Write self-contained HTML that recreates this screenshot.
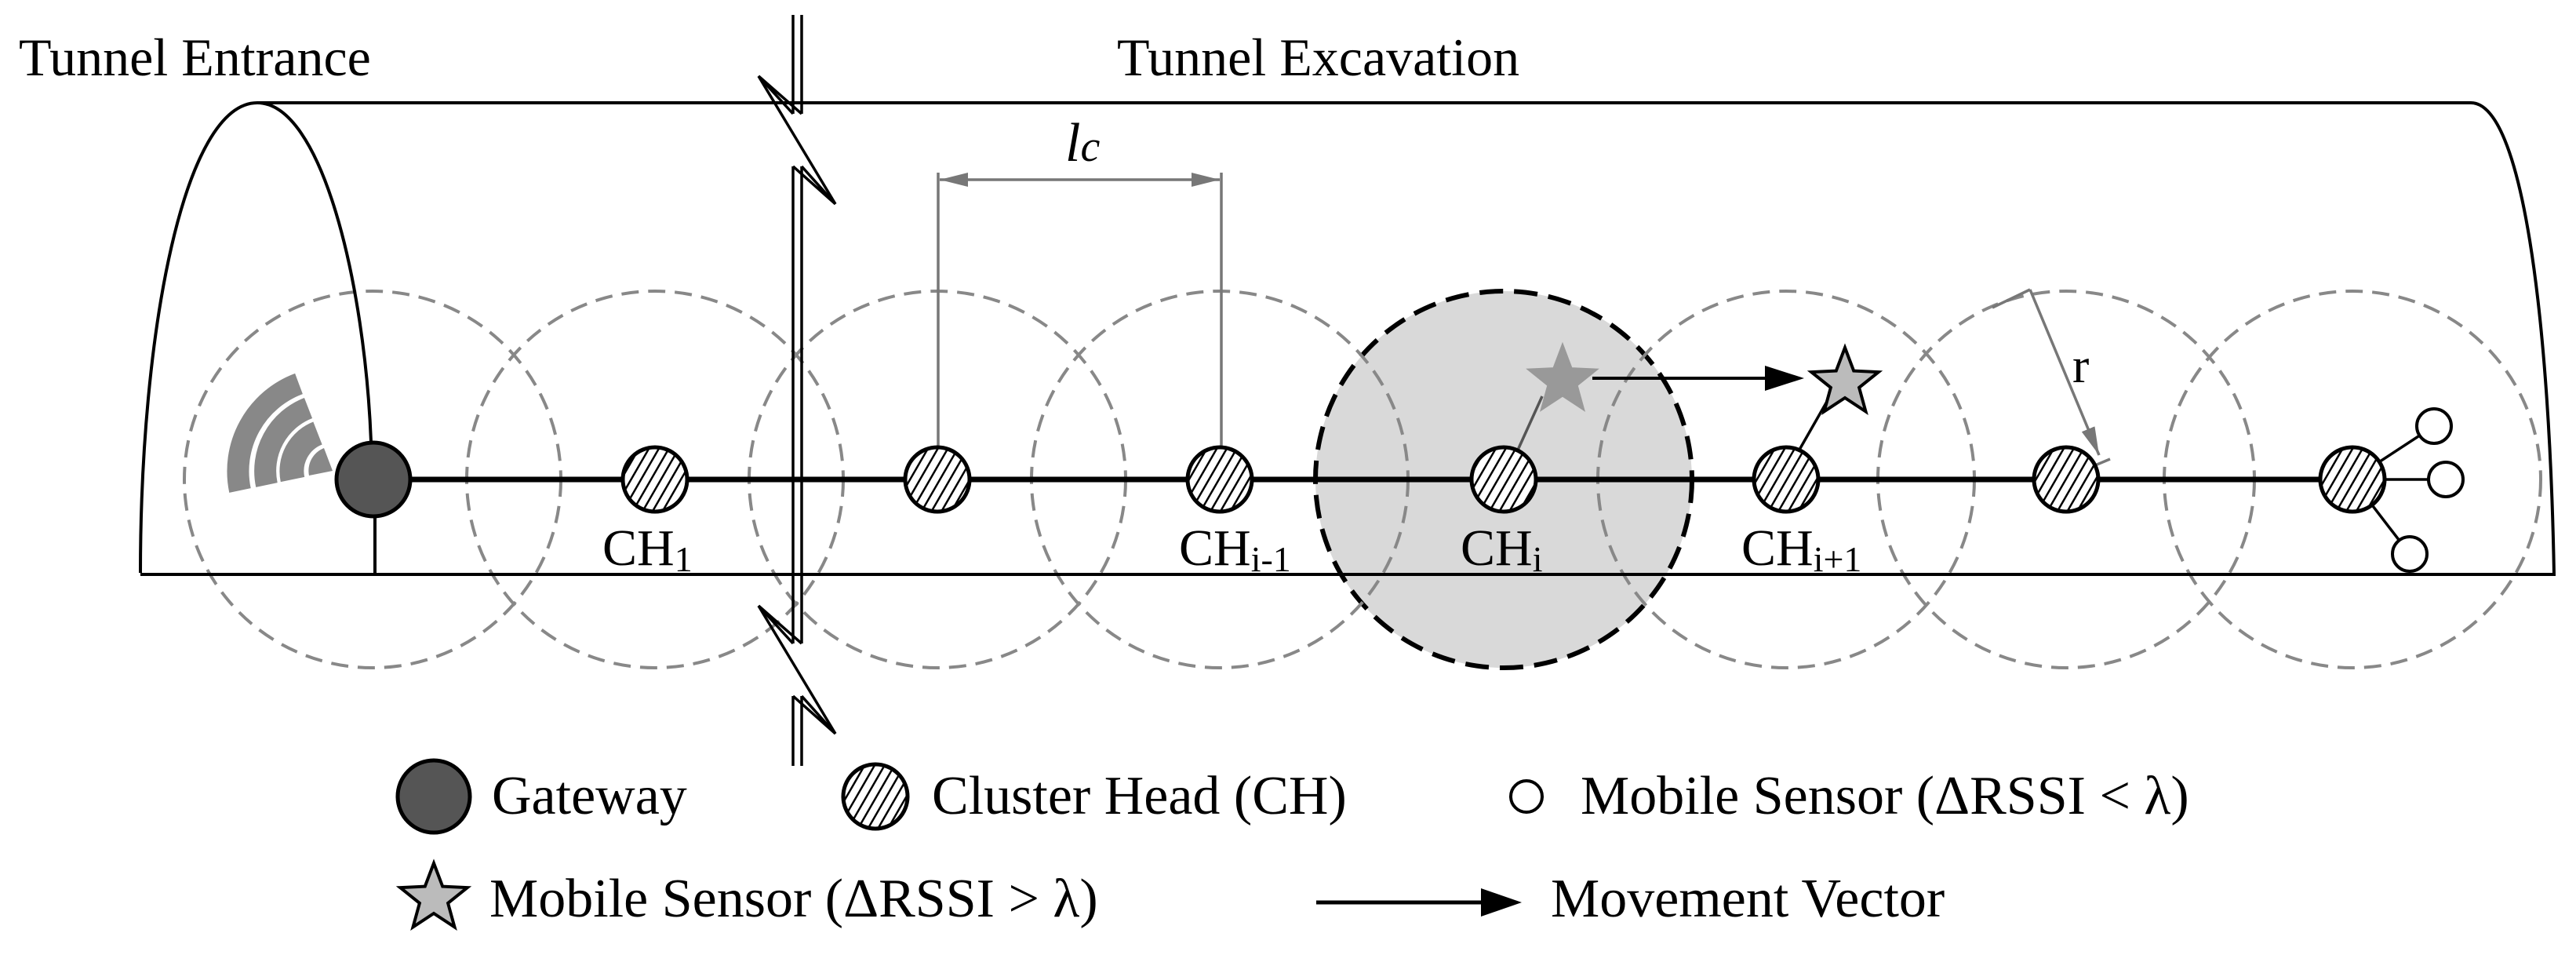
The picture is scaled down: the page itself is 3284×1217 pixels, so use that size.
<!DOCTYPE html>
<html><head><meta charset="utf-8"><style>
html,body{margin:0;padding:0;background:#fff;}
svg{display:block;font-family:"Liberation Serif","Noto Serif CJK SC",serif;}
svg text{font-family:"Liberation Serif","Noto Serif CJK SC",serif;fill:#000;}
</style></head><body>
<svg width="3284" height="1217" viewBox="0 0 3284 1217" xmlns="http://www.w3.org/2000/svg">
<defs>
<pattern id="h" patternUnits="userSpaceOnUse" width="11" height="11" patternTransform="rotate(30)">
<rect width="11" height="11" fill="#fff"/><line x1="0" y1="0" x2="0" y2="11" stroke="#000" stroke-width="5"/>
</pattern>
<marker id="ga" markerWidth="36" markerHeight="18" refX="36" refY="9" orient="auto-start-reverse" markerUnits="userSpaceOnUse"><path d="M0,0 L36,9 L0,18z" fill="#777"/></marker>
<polygon id="star" points="0,-45 11.2,-15.4 42.8,-13.9 18.1,5.9 26.5,36.4 0,19 -26.5,36.4 -18.1,5.9 -42.8,-13.9 -11.2,-15.4"/>
</defs>

<text x="24" y="96" font-size="68">Tunnel Entrance</text>
<text x="1424" y="96" font-size="68">Tunnel Excavation</text>

<circle cx="1917" cy="611" r="240" fill="#d9d9d9" stroke="#000" stroke-width="6" stroke-dasharray="30,14"/>

<g fill="none" stroke="#888" stroke-width="4" stroke-dasharray="22,12">
<circle cx="475" cy="611" r="240"/><circle cx="835" cy="611" r="240"/><circle cx="1195" cy="611" r="240"/>
<circle cx="1555" cy="611" r="240"/><circle cx="2277" cy="611" r="240"/><circle cx="2634" cy="611" r="240"/>
<circle cx="2999" cy="611" r="240"/>
</g>

<g fill="none" stroke="#000" stroke-width="4">
<path d="M179,730 C179,420 235,131 328,131 C410,131 465,360 473,563"/>
<path d="M328,131 L3150,131 C3215,131 3250,400 3256,732 L179,732"/>
<line x1="478" y1="659" x2="478" y2="732"/>
</g>

<g fill="none" stroke="#888">
<path d="M424,600 L394,606 A31,31 0 0 1 413,571 Z" fill="#888" stroke="none"/>
<path d="M373,611 A52,52 0 0 1 405,552" stroke-width="31"/>
<path d="M340,618 A86,86 0 0 1 393,520" stroke-width="28"/>
<path d="M306,625 A119,119 0 0 1 381,489" stroke-width="28"/>
</g>

<line x1="475" y1="611" x2="2999" y2="611" stroke="#000" stroke-width="7"/>

<rect x="1004" y="146" width="24" height="66" fill="#fff"/>
<rect x="1004" y="821" width="24" height="66" fill="#fff"/>
<g fill="none" stroke="#000" stroke-width="3.5">
<line x1="1011" y1="19" x2="1011" y2="145"/><line x1="1022" y1="19" x2="1022" y2="145"/>
<line x1="1011" y1="212" x2="1011" y2="820"/><line x1="1022" y1="212" x2="1022" y2="820"/>
<line x1="1011" y1="887" x2="1011" y2="976"/><line x1="1022" y1="887" x2="1022" y2="976"/>
<polyline points="1011,145 967,97 1022,145"/>
<line x1="967" y1="97" x2="1065" y2="260"/>
<polyline points="1011,212 1065,260 1022,212"/>
<polyline points="1011,820 967,772 1022,820"/>
<line x1="967" y1="772" x2="1065" y2="935"/>
<polyline points="1011,887 1065,935 1022,887"/>
</g>

<g stroke="#777" stroke-width="3.5" fill="none">
<line x1="1196" y1="220" x2="1196" y2="600"/>
<line x1="1557" y1="220" x2="1557" y2="600"/>
<line x1="1198" y1="229" x2="1555" y2="229" marker-start="url(#ga)" marker-end="url(#ga)"/>
</g>
<text x="1358" y="205" font-size="70" font-style="italic">l<tspan font-size="56">c</tspan></text>

<g stroke="#777" stroke-width="3.5" fill="none">
<line x1="2588" y1="369" x2="2676" y2="580" marker-end="url(#ga)"/>
<line x1="2588" y1="369" x2="2540" y2="392"/>
<line x1="2690" y1="585" x2="2640" y2="606"/>
</g>
<text x="2642" y="487" font-size="64">r</text>

<g stroke="#000" stroke-width="3.5">
<line x1="1932" y1="580" x2="1966" y2="505" stroke="#555"/>
<line x1="2290" y1="580" x2="2330" y2="510"/>
<line x1="2999" y1="611" x2="3103" y2="543"/>
<line x1="2999" y1="611" x2="3118" y2="611"/>
<line x1="2999" y1="611" x2="3072" y2="706"/>
</g>

<circle cx="476" cy="611" r="47" fill="#555" stroke="#000" stroke-width="5"/>

<g fill="url(#h)" stroke="#000" stroke-width="5">
<circle cx="835" cy="611" r="41"/><circle cx="1195" cy="611" r="41"/><circle cx="1555" cy="611" r="41"/>
<circle cx="1917" cy="611" r="41"/><circle cx="2277" cy="611" r="41"/><circle cx="2634" cy="611" r="41"/>
<circle cx="2999" cy="611" r="41"/>
</g>

<g fill="#fff" stroke="#000" stroke-width="4">
<circle cx="3103" cy="543" r="22"/><circle cx="3118" cy="611" r="22"/><circle cx="3072" cy="706" r="22"/>
</g>

<use href="#star" transform="translate(1992,485)" fill="#999" stroke="#999" stroke-width="3"/>
<line x1="2030" y1="482" x2="2255" y2="482" stroke="#000" stroke-width="4"/>
<path d="M2250,466 L2300,482 L2250,498z" fill="#000"/>
<use href="#star" transform="translate(2352,488)" fill="#bbb" stroke="#000" stroke-width="4"/>

<g font-size="66">
<text x="768" y="720">CH<tspan font-size="46" dy="8">1</tspan></text>
<text x="1503" y="720">CH<tspan font-size="46" dy="8">i-1</tspan></text>
<text x="1862" y="720">CH<tspan font-size="46" dy="8">i</tspan></text>
<text x="2220" y="720">CH<tspan font-size="46" dy="8">i+1</tspan></text>
</g>

<circle cx="553" cy="1015" r="46" fill="#555" stroke="#000" stroke-width="5"/>
<text x="627" y="1037" font-size="70">Gateway</text>
<circle cx="1116" cy="1015" r="41" fill="url(#h)" stroke="#000" stroke-width="5"/>
<text x="1188" y="1037" font-size="70">Cluster Head (CH)</text>
<circle cx="1946" cy="1015" r="20" fill="#fff" stroke="#000" stroke-width="4"/>
<text x="2015" y="1037" font-size="70">Mobile Sensor (ΔRSSI &lt; λ)</text>
<use href="#star" transform="translate(553,1145)" fill="#bbb" stroke="#000" stroke-width="4"/>
<text x="624" y="1168" font-size="70">Mobile Sensor (ΔRSSI &gt; λ)</text>
<line x1="1678" y1="1150" x2="1900" y2="1150" stroke="#000" stroke-width="5"/>
<path d="M1888,1132 L1940,1150 L1888,1168z" fill="#000"/>
<text x="1977" y="1168" font-size="70">Movement Vector</text>
</svg>
</body></html>
